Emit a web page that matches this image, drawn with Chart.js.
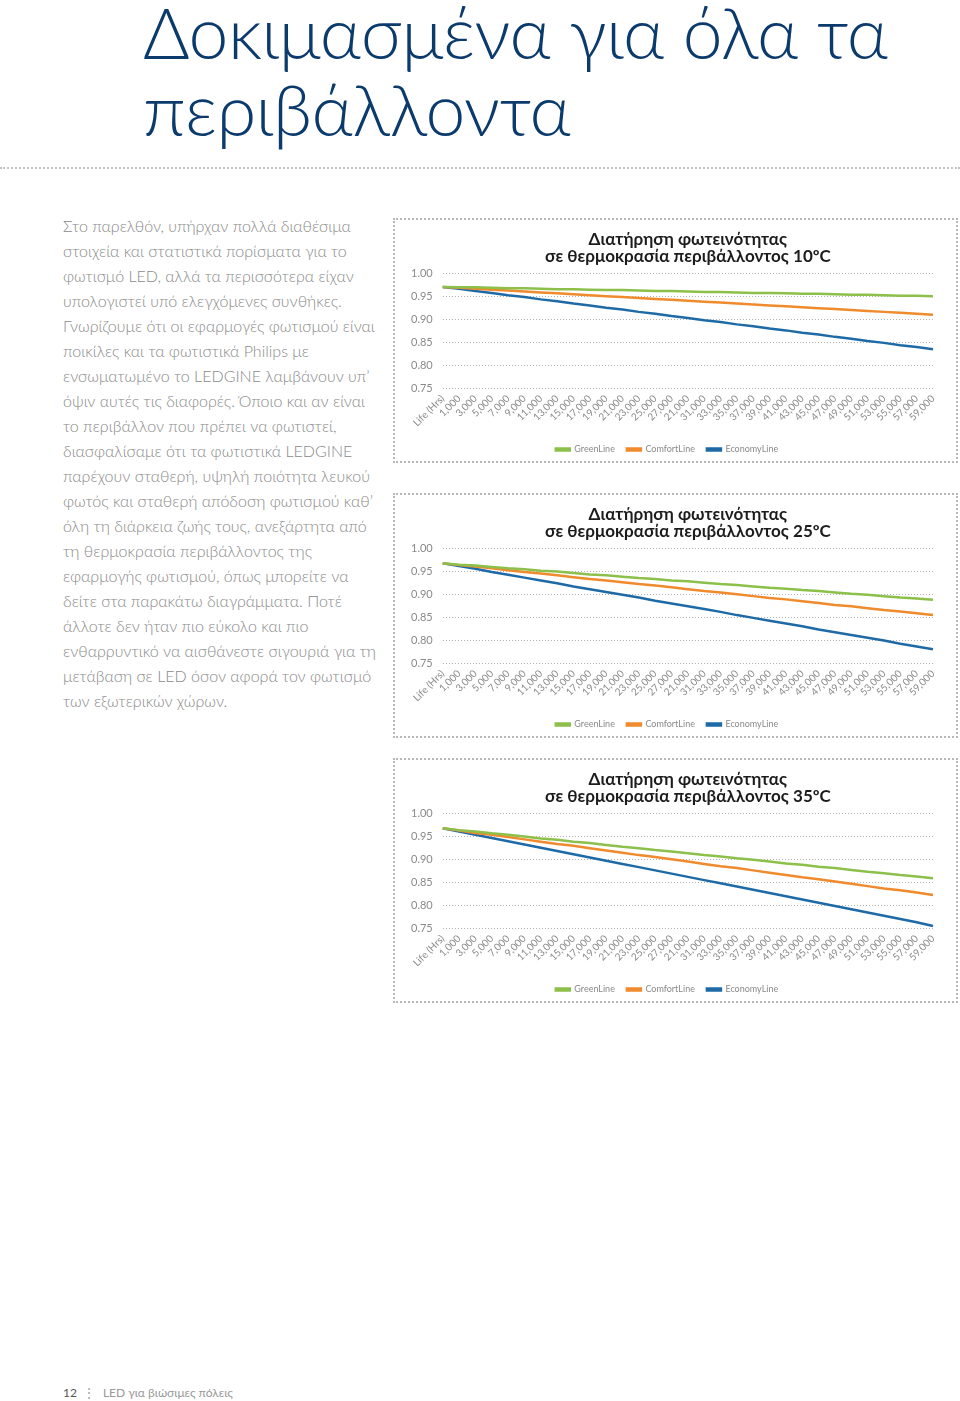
<!DOCTYPE html>
<html><head><meta charset="utf-8">
<script src="https://cdn.jsdelivr.net/npm/chart.js@4.4.1/dist/chart.umd.min.js"></script>
<style>
html,body{margin:0;padding:0;background:#fff;}
body{width:960px;height:1401px;position:relative;overflow:hidden;font-family:"Lato","Open Sans",sans-serif;}
#pageTitle{position:absolute;left:143px;top:-7px;margin:0;color:#0b3a6c;font-weight:300;font-size:71.5px;line-height:77px;white-space:nowrap;letter-spacing:-0.5px;}
#rule{position:absolute;left:0;top:167px;width:960px;height:0;border-top:2px dotted #c4c4c4;}
#body{position:absolute;left:63px;top:213px;margin:0;color:#8a8a8a;font-weight:300;font-size:16px;line-height:25px;white-space:nowrap;}
.box{position:absolute;left:393px;width:561px;height:241px;border:2px dotted #b8b8b8;}
.box canvas{position:absolute;left:0;top:0;}
#footer{position:absolute;left:63px;top:1385px;font-size:12px;color:#999;white-space:nowrap;}
#footer b{color:#555;font-weight:400;margin-right:6px;}
#footer span{color:#999;margin-right:8px;}
</style></head>
<body>
<h1 id="pageTitle">Δοκιμασμένα για όλα τα<br>περιβάλλοντα</h1>
<div id="rule"></div>
<p id="body">Στο παρελθόν, υπήρχαν πολλά διαθέσιμα<br>στοιχεία και στατιστικά πορίσματα για το<br>φωτισμό LED, αλλά τα περισσότερα είχαν<br>υπολογιστεί υπό ελεγχόμενες συνθήκες.<br>Γνωρίζουμε ότι οι εφαρμογές φωτισμού είναι<br>ποικίλες και τα φωτιστικά Philips με<br>ενσωματωμένο το LEDGINE λαμβάνουν υπ’<br>όψιν αυτές τις διαφορές. Όποιο και αν είναι<br>το περιβάλλον που πρέπει να φωτιστεί,<br>διασφαλίσαμε ότι τα φωτιστικά LEDGINE<br>παρέχουν σταθερή, υψηλή ποιότητα λευκού<br>φωτός και σταθερή απόδοση φωτισμού καθ’<br>όλη τη διάρκεια ζωής τους, ανεξάρτητα από<br>τη θερμοκρασία περιβάλλοντος της<br>εφαρμογής φωτισμού, όπως μπορείτε να<br>δείτε στα παρακάτω διαγράμματα. Ποτέ<br>άλλοτε δεν ήταν πιο εύκολο και πιο<br>ενθαρρυντικό να αισθάνεστε σιγουριά για τη<br>μετάβαση σε LED όσον αφορά τον φωτισμό<br>των εξωτερικών χώρων.</p>

<div class="box" style="top:218px"><canvas id="c10" width="561" height="244"></canvas></div>
<div class="box" style="top:493px"><canvas id="c25" width="561" height="244"></canvas></div>
<div class="box" style="top:758px"><canvas id="c35" width="561" height="244"></canvas></div>

<div id="footer"><b>12</b><span>⋮</span>LED για βιώσιμες πόλεις</div>

<script>
const hours = ["Life (Hrs)","1,000","3,000","5,000","7,000","9,000","11,000","13,000","15,000","17,000","19,000","21,000","23,000","25,000","27,000","21,000","31,000","33,000","35,000","37,000","39,000","41,000","43,000","45,000","47,000","49,000","51,000","53,000","55,000","57,000","59,000"];
const yTicks = [0.75, 0.80, 0.85, 0.90, 0.95, 1.00];
const seriesNames = ["GreenLine","ComfortLine","EconomyLine"];

const green10  = [0.970,0.969,0.969,0.968,0.967,0.967,0.966,0.965,0.965,0.964,0.963,0.963,0.962,0.961,0.961,0.960,0.959,0.959,0.958,0.957,0.957,0.956,0.955,0.955,0.954,0.953,0.953,0.952,0.951,0.951,0.950];
const comfort10= [0.970,0.968,0.966,0.964,0.962,0.960,0.958,0.956,0.954,0.952,0.950,0.948,0.946,0.944,0.942,0.940,0.938,0.936,0.934,0.932,0.930,0.928,0.926,0.924,0.922,0.920,0.918,0.916,0.914,0.912,0.910];
const economy10= [0.970,0.966,0.961,0.957,0.952,0.948,0.943,0.939,0.934,0.930,0.925,0.921,0.916,0.912,0.907,0.903,0.898,0.894,0.889,0.885,0.880,0.876,0.871,0.867,0.862,0.858,0.853,0.849,0.844,0.840,0.835];

const green25  = [0.967,0.964,0.962,0.959,0.956,0.954,0.951,0.949,0.946,0.943,0.941,0.938,0.935,0.933,0.930,0.928,0.925,0.922,0.920,0.917,0.914,0.912,0.909,0.907,0.904,0.901,0.899,0.896,0.893,0.891,0.888];
const comfort25= [0.967,0.963,0.960,0.956,0.952,0.948,0.945,0.941,0.937,0.933,0.930,0.926,0.922,0.919,0.915,0.911,0.907,0.904,0.900,0.896,0.892,0.889,0.885,0.881,0.877,0.874,0.870,0.866,0.863,0.859,0.855];
const economy25= [0.967,0.961,0.955,0.948,0.942,0.936,0.930,0.924,0.917,0.911,0.905,0.899,0.893,0.886,0.880,0.874,0.868,0.862,0.855,0.849,0.843,0.837,0.831,0.824,0.818,0.812,0.806,0.800,0.793,0.787,0.781];

const green35  = [0.967,0.963,0.960,0.956,0.953,0.949,0.945,0.942,0.938,0.935,0.931,0.927,0.924,0.920,0.917,0.913,0.909,0.906,0.902,0.899,0.895,0.891,0.888,0.884,0.881,0.877,0.873,0.870,0.866,0.863,0.859];
const comfort35= [0.967,0.962,0.957,0.953,0.948,0.943,0.938,0.933,0.929,0.924,0.919,0.914,0.909,0.905,0.900,0.895,0.890,0.885,0.881,0.876,0.871,0.866,0.861,0.857,0.852,0.847,0.842,0.837,0.833,0.828,0.823];
const economy35= [0.967,0.960,0.953,0.946,0.939,0.932,0.925,0.918,0.911,0.904,0.897,0.890,0.883,0.876,0.869,0.862,0.855,0.848,0.841,0.834,0.827,0.820,0.813,0.806,0.799,0.792,0.785,0.778,0.771,0.764,0.756];

const colors = ["#8cc04a","#ef8a2d","#1e6aa6"];
const FONT = '"Lato","Open Sans",sans-serif';

function makeChart(id, titleLines, g, c, e){
  const vals = [g, c, e];
  new Chart(document.getElementById(id), {
    type: 'line',
    data: {
      labels: hours,
      datasets: seriesNames.map((n,i)=>({
        label: n, data: vals[i], borderColor: colors[i], backgroundColor: colors[i],
        borderWidth: 2.5, pointRadius: 0, tension: 0, fill: false
      }))
    },
    options: {
      responsive: false, animation: false,
      layout: {padding: {left: 6, right: 23, top: 0, bottom: 0}},
      plugins: {
        title: {display: true, fullSize: false, text: titleLines, color: '#1c1c1c',
          font: {family: FONT, size: 17, weight: 'bold', lineHeight: 1.0},
          padding: {top: 11, bottom: 8}},
        legend: {position: 'bottom',
          labels: {boxWidth: 14, boxHeight: 2, padding: 12, color: '#8a8a8a',
            font: {family: FONT, size: 9}}},
        tooltip: {enabled: false}
      },
      scales: {
        x: {
          grid: {display: false, drawTicks: false}, border: {display: false},
          ticks: {autoSkip: false, minRotation: 45, maxRotation: 45, color: '#8a8a8a',
            font: {family: FONT, size: 10}, padding: 4}
        },
        y: {
          min: yTicks[0], max: yTicks[yTicks.length-1],
          afterBuildTicks: (ax)=>{ ax.ticks = yTicks.map(v=>({value:v})); },
          grid: {color: '#b0b0b0', lineWidth: 1, drawTicks: false},
          border: {display: false, dash: [1,2]},
          ticks: {color: '#8a8a8a', padding: 10, font: {family: FONT, size: 11},
            callback: (v)=>Number(v).toFixed(2)}
        }
      }
    }
  });
}

makeChart('c10', ['Διατήρηση φωτεινότητας','σε θερμοκρασία περιβάλλοντος 10ºC'], green10, comfort10, economy10);
makeChart('c25', ['Διατήρηση φωτεινότητας','σε θερμοκρασία περιβάλλοντος 25ºC'], green25, comfort25, economy25);
makeChart('c35', ['Διατήρηση φωτεινότητας','σε θερμοκρασία περιβάλλοντος 35ºC'], green35, comfort35, economy35);
</script>
</body></html>
